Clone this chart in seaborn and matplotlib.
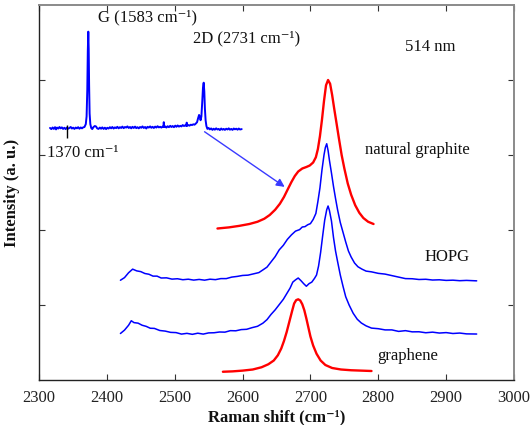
import numpy as np
import pandas as pd
import matplotlib
matplotlib.use("Agg")
import matplotlib.pyplot as plt
import seaborn as sns

# ---------------- data ----------------
# natural graphite (red, top)
ng_x = [2563, 2580, 2595, 2610, 2622, 2632, 2640, 2648, 2655, 2661, 2667, 2672, 2677, 2682,
        2688, 2694, 2699, 2704, 2708, 2711, 2714, 2717, 2720, 2723, 2726, 2729, 2732, 2735,
        2738, 2742, 2746, 2750, 2755, 2760, 2766, 2772, 2778, 2785, 2793]
ng_y = [2.02, 2.035, 2.055, 2.08, 2.11, 2.15, 2.20, 2.27, 2.35, 2.44, 2.55, 2.64, 2.72, 2.78,
        2.82, 2.84, 2.86, 2.90, 2.97, 3.08, 3.25, 3.47, 3.72, 3.93, 4.00, 3.95, 3.80, 3.62,
        3.45, 3.22, 3.00, 2.82, 2.62, 2.47, 2.33, 2.23, 2.16, 2.11, 2.08]

# HOPG (blue, middle)
hopg_x = [2420, 2426, 2432, 2438, 2444, 2450, 2456, 2462, 2468, 2474, 2480, 2488, 2496, 2504,
          2512, 2520, 2528, 2536, 2544, 2552, 2560, 2568, 2576, 2584, 2592, 2600, 2608, 2616,
          2624, 2630, 2636, 2642, 2648, 2654, 2660, 2666, 2672, 2678, 2684, 2688, 2692, 2696,
          2700, 2704, 2708, 2711, 2714, 2717, 2720, 2722, 2724, 2726, 2728, 2731, 2734, 2737,
          2740, 2744, 2748, 2752, 2756, 2760, 2765, 2770, 2776, 2782, 2790, 2800, 2810, 2820,
          2830, 2840, 2850, 2860, 2870, 2880, 2890, 2900, 2910, 2920, 2930, 2945]
hopg_y = [1.33, 1.365, 1.43, 1.478, 1.455, 1.445, 1.42, 1.41, 1.385, 1.385, 1.36, 1.362, 1.345, 1.35,
          1.337, 1.344, 1.332, 1.341, 1.331, 1.344, 1.338, 1.352, 1.352, 1.372, 1.381, 1.394, 1.398, 1.415,
          1.432, 1.468, 1.505, 1.575, 1.645, 1.735, 1.795, 1.875, 1.935, 1.985, 2.005, 2.04, 2.045, 2.07,
          2.085, 2.14, 2.22, 2.38, 2.56, 2.80, 3.00, 3.10, 3.15, 3.06, 2.93, 2.76, 2.58, 2.42,
          2.27, 2.10, 1.97, 1.84, 1.72, 1.64, 1.56, 1.51, 1.478, 1.452, 1.442, 1.422, 1.412, 1.392,
          1.372, 1.352, 1.35, 1.34, 1.343, 1.333, 1.336, 1.328, 1.331, 1.324, 1.328, 1.322]

# few-layer (blue, lower)
fl_x = [2420, 2426, 2432, 2436, 2440, 2446, 2452, 2458, 2464, 2470, 2478, 2486, 2494, 2502,
        2510, 2518, 2526, 2534, 2542, 2550, 2558, 2566, 2574, 2582, 2590, 2598, 2606, 2614,
        2622, 2630, 2636, 2642, 2648, 2654, 2660, 2666, 2670, 2674, 2678, 2682, 2686, 2690,
        2694, 2698, 2702, 2706, 2709, 2712, 2715, 2718, 2721, 2724, 2726, 2728, 2731, 2734,
        2737, 2740, 2744, 2748, 2752, 2757, 2763, 2769, 2775, 2782, 2790, 2800, 2810, 2820,
        2830, 2840, 2850, 2860, 2870, 2880, 2890, 2900, 2910, 2920, 2930, 2945]
fl_y = [0.62, 0.665, 0.73, 0.79, 0.765, 0.758, 0.73, 0.715, 0.69, 0.688, 0.66, 0.652, 0.635, 0.632,
        0.612, 0.622, 0.609, 0.624, 0.612, 0.628, 0.63, 0.64, 0.638, 0.658, 0.656, 0.672, 0.676, 0.698,
        0.716, 0.758, 0.805, 0.875, 0.935, 1.005, 1.075, 1.165, 1.225, 1.305, 1.335, 1.36, 1.325, 1.285,
        1.25, 1.285, 1.305, 1.355, 1.40, 1.52, 1.70, 1.92, 2.13, 2.27, 2.32, 2.26, 2.12, 1.90,
        1.72, 1.58, 1.40, 1.25, 1.11, 1.00, 0.89, 0.81, 0.76, 0.722, 0.692, 0.684, 0.668, 0.668,
        0.648, 0.658, 0.642, 0.643, 0.63, 0.638, 0.626, 0.632, 0.62, 0.626, 0.615, 0.613]

# graphene (red, bottom)
gr_x = [2571, 2585, 2600, 2615, 2628, 2638, 2646, 2652, 2657, 2661, 2665, 2669, 2673, 2676,
        2679, 2682, 2685, 2688, 2691, 2694, 2697, 2700, 2704, 2709, 2715, 2722, 2732, 2745,
        2760, 2775, 2790]
gr_y = [0.11, 0.115, 0.125, 0.14, 0.17, 0.21, 0.26, 0.33, 0.42, 0.52, 0.64, 0.78, 0.92, 1.02,
        1.065, 1.076, 1.06, 1.01, 0.93, 0.82, 0.70, 0.58, 0.46, 0.35, 0.26, 0.20, 0.16, 0.14,
        0.13, 0.125, 0.12]

# inset: full spectrum (own wavenumber scale, relative intensity)
ins_x = [1202, 1215, 1228, 1240, 1252, 1262, 1272, 1285, 1296, 1308, 1320, 1332, 1345, 1358,
         1370, 1382, 1395, 1408, 1420, 1432, 1445, 1458, 1470, 1482, 1495, 1508, 1520, 1532,
         1545, 1558, 1566, 1573, 1578, 1583, 1587, 1591, 1596, 1603, 1612, 1622, 1635, 1648,
         1660, 1672, 1685, 1698, 1710, 1722, 1735, 1748, 1760, 1772, 1785, 1798, 1810, 1822,
         1835, 1848, 1860, 1872, 1885, 1898, 1910, 1922, 1935, 1948, 1960, 1972, 1985, 1998,
         2010, 2022, 2035, 2048, 2060, 2072, 2085, 2098, 2110, 2122, 2135, 2148, 2160, 2172,
         2185, 2198, 2210, 2222, 2235, 2248, 2260, 2272, 2285, 2298, 2310, 2322, 2330, 2334,
         2338, 2348, 2360, 2372, 2385, 2398, 2410, 2422, 2435, 2448, 2460, 2472, 2485, 2498,
         2510, 2522, 2535, 2548, 2558, 2562, 2566, 2578, 2590, 2602, 2615, 2628, 2640, 2652,
         2665, 2675, 2685, 2693, 2700, 2708, 2716, 2724, 2731, 2737, 2743, 2750, 2758, 2768,
         2780, 2792, 2805, 2818, 2830, 2842, 2855, 2868, 2880, 2892, 2905, 2918, 2930, 2942,
         2955, 2968, 2980, 2992, 3005, 3018, 3030, 3042, 3055, 3068, 3080, 3092, 3109]
ins_y = [0.000, -0.012, 0.005, -0.010, 0.008, -0.015, 0.004, -0.006, 0.010, -0.004, 0.006, -0.010, 0.002, -0.012,
         0.004, -0.008, 0.000, 0.010, -0.006, 0.003, -0.010, 0.004, -0.004, 0.008, -0.008, 0.005, -0.004, 0.006,
         0.010, 0.040, 0.120, 0.400, 0.800, 1.000, 0.820, 0.450, 0.150, 0.040, 0.000, -0.012, 0.010, 0.020,
         0.015, -0.005, -0.010, 0.004, -0.008, 0.006, -0.010, 0.003, -0.012, 0.002, -0.006, 0.008, -0.004, 0.010,
         -0.006, 0.006, -0.002, 0.012, -0.004, 0.008, 0.000, 0.014, -0.002, 0.010, 0.004, 0.016, 0.000, 0.010,
         -0.004, 0.012, 0.000, 0.014, -0.002, 0.008, -0.004, 0.010, 0.002, 0.016, 0.000, 0.010, -0.006, 0.012,
         0.004, 0.016, 0.002, 0.012, 0.000, 0.014, 0.004, 0.018, 0.006, 0.012, 0.004, 0.014, 0.010, 0.060,
         0.010, 0.016, 0.004, 0.018, 0.008, 0.022, 0.010, 0.020, 0.008, 0.024, 0.012, 0.026, 0.014, 0.022,
         0.016, 0.030, 0.020, 0.028, 0.020, 0.055, 0.022, 0.030, 0.024, 0.034, 0.030, 0.038, 0.034, 0.045,
         0.060, 0.100, 0.135, 0.115, 0.080, 0.120, 0.260, 0.420, 0.470, 0.380, 0.200, 0.080, 0.020, -0.010,
         0.000, -0.015, -0.005, -0.020, -0.008, -0.018, -0.004, -0.016, -0.010, -0.022, -0.006, -0.018, -0.010, -0.020,
         -0.008, -0.016, -0.004, -0.018, -0.010, -0.020, -0.006, -0.014, -0.008, -0.018, -0.006, -0.016, -0.012]
d_band = 1370  # marked D-band position in the inset

x_ticks = [2300, 2400, 2500, 2600, 2700, 2800, 2900, 3000]
y_ticks = [1, 2, 3, 4]

# ---------------- style ----------------
sns.set_theme(style="ticks")
serif = ["Liberation Serif", "DejaVu Serif"]
plt.rcParams["font.family"] = serif

RED = "#ff0000"
BLUE = "#0000ff"
FS = 12

fig = plt.figure(figsize=(5.32, 4.25), dpi=100)
W, H = 532, 425
ax = fig.add_axes([39 / W, 1 - 380 / H, (514 - 39) / W, (380 - 5) / H])

def draw(ax, x, y, color, lw):
    df = pd.DataFrame({"x": x, "y": y})
    sns.lineplot(data=df, x="x", y="y", ax=ax, color=color, lw=lw,
                 estimator=None, sort=False)

draw(ax, gr_x, gr_y, RED, 1.7)
draw(ax, fl_x, fl_y, BLUE, 1.1)
draw(ax, hopg_x, hopg_y, BLUE, 1.1)
draw(ax, ng_x, ng_y, RED, 1.7)

ax.set_xlim(2300, 3000)
ax.set_ylim(0, 5)
ax.set_xticks(x_ticks)
ax.set_yticks(y_ticks)
ax.set_yticklabels([])
ax.tick_params(direction="in", length=4, width=0.8, top=True, right=True,
               labelsize=FS, labelcolor="#222222", color="#333333", pad=7)
for s in ["left", "bottom"]:
    ax.spines[s].set_color("#222222")
    ax.spines[s].set_linewidth(1.0)
for s in ["top", "right"]:
    ax.spines[s].set_color("#8a8a8a")
    ax.spines[s].set_linewidth(1.4)

ax.set_xlabel("Raman shift (cm⁻¹)", fontsize=FS, fontweight="bold",
              family=serif, color="#111111", labelpad=3)
ax.set_ylabel("Intensity (a. u.)", fontsize=FS, fontweight="bold",
              family=serif, color="#111111", labelpad=0)
ax.yaxis.set_label_coords(-19 / 475, 0.5)

tk = dict(fontsize=FS, family=serif, color="#111111", va="center", ha="left")
ax.text(2387, 4.83, "G (1583 cm⁻¹)", **tk)
ax.text(2527, 4.56, "2D (2731 cm⁻¹)", **tk)
ax.text(2840, 4.44, "514 nm", **tk)
ax.text(2780, 3.07, "natural graphite", **tk)
ax.text(2868, 1.64, "HOPG", **tk)
ax.text(2799, 0.32, "graphene", **tk)
ax.text(2312, 3.03, "1370 cm⁻¹", **tk)

ax.annotate("", xy=(2662, 2.575), xytext=(2544, 3.31),
            arrowprops=dict(arrowstyle="-|>", color="#3a3aff", lw=1.0,
                            mutation_scale=12, shrinkA=0, shrinkB=0))

# inset
ax_in = fig.add_axes([48 / W, 1 - 145 / H, 196 / W, 125 / H])
ax_in.patch.set_alpha(0)
draw(ax_in, ins_x, ins_y, BLUE, 1.4)
ax_in.vlines([d_band], -0.104, 0.031, color="black", lw=1.0)
ax_in.set_xlim(1182, 3132)
ax_in.set_ylim(-0.177, 1.121)
ax_in.axis("off")

fig.savefig("out.png", dpi=100)
